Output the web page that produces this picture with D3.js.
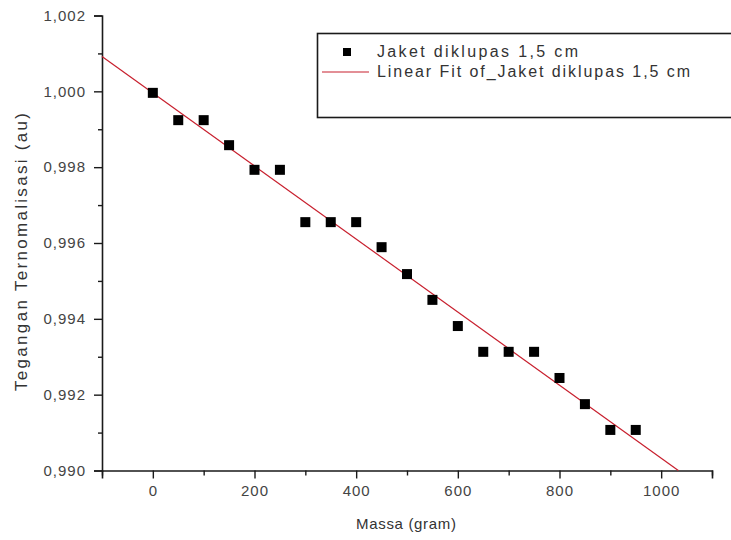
<!doctype html>
<html lang="en">

<head>
    <meta charset="utf-8">
    <title>Jaket diklupas 1,5 cm</title>
    <script src="https://cdn.jsdelivr.net/npm/d3@7"></script>
    <style>
        body { margin: 0; background: #fff; }
        svg { display: block; font-family: Arial, "Liberation Sans", sans-serif; }
    </style>
</head>

<body>
    <script>
        // data
        var massa = [0, 50, 100, 150, 200, 250, 300, 350, 400, 450,
                     500, 550, 600, 650, 700, 750, 800, 850, 900, 950];
        var tegangan = [0.99996, 0.99924, 0.99924, 0.99858, 0.99793, 0.99793, 0.99655, 0.99655, 0.99655, 0.99589,
                        0.99518, 0.99450, 0.99381, 0.99313, 0.99313, 0.99313, 0.99244, 0.99175, 0.99107, 0.99107];
        var xTicks = [0, 200, 400, 600, 800, 1000];
        var xMinor = [-100, 100, 300, 500, 700, 900, 1100];
        var yTicks = [0.990, 0.992, 0.994, 0.996, 0.998, 1.000, 1.002];
        var yMinor = [0.991, 0.993, 0.995, 0.997, 0.999, 1.001];
        var seriesName = "Jaket diklupas 1,5 cm";
        var fitName = "Linear Fit of_Jaket diklupas 1,5 cm";

        var width = 731, height = 540;
        var mLeft = 102, mRight = 712, mTop = 15.5, mBottom = 470.5;

        var svg = d3.select("body").append("svg")
            .attr("width", width)
            .attr("height", height);

        var x = d3.scaleLinear().domain([-100, 1100]).range([mLeft, mRight]);
        var y = d3.scaleLinear().domain([0.990, 1.002]).range([mBottom, mTop]);

        // comma as decimal mark
        var fmt = function(d) { return d3.format(".3f")(d).replace(".", ","); };

        // least squares fit of the points
        var mx = d3.mean(massa), my = d3.mean(tegangan);
        var sxy = d3.sum(massa, function(d, i) { return (d - mx) * (tegangan[i] - my); });
        var sxx = d3.sum(massa, function(d) { return (d - mx) * (d - mx); });
        var slope = sxy / sxx, icpt = my - slope * mx;
        var xEnd = (0.990 - icpt) / slope;

        // axes
        svg.append("g").attr("transform", "translate(0," + mBottom + ")")
            .call(d3.axisBottom(x).tickValues(xTicks).tickSize(8).tickPadding(7).tickFormat(d3.format("d")));
        svg.append("g").attr("transform", "translate(0," + mBottom + ")")
            .call(d3.axisBottom(x).tickValues(xMinor).tickSize(5).tickFormat(""))
            .select(".domain").remove();

        svg.append("g").attr("transform", "translate(" + mLeft + ",0)")
            .call(d3.axisLeft(y).tickValues(yTicks).tickSize(8).tickPadding(8).tickFormat(fmt));
        svg.append("g").attr("transform", "translate(" + mLeft + ",0)")
            .call(d3.axisLeft(y).tickValues(yMinor).tickSize(4).tickFormat(""))
            .select(".domain").remove();

        svg.selectAll(".domain").attr("stroke", "#1a1a1a").attr("stroke-width", 1.6);
        svg.selectAll(".tick line").attr("stroke", "#1a1a1a").attr("stroke-width", 1.4);
        svg.selectAll(".tick text")
            .attr("fill", "#444")
            .attr("font-size", 15)
            .attr("letter-spacing", 1)
            .attr("font-family", "Arial, 'Liberation Sans', sans-serif");

        // fit line
        svg.append("line")
            .attr("x1", x(-100)).attr("y1", y(icpt + slope * -100))
            .attr("x2", x(xEnd)).attr("y2", y(0.990))
            .attr("stroke", "#c8202e")
            .attr("stroke-width", 1.2);

        // points
        svg.selectAll("rect.pt")
            .data(massa)
            .enter()
            .append("rect")
            .attr("class", "pt")
            .attr("x", function(d) { return x(d) - 5; })
            .attr("y", function(d, i) { return y(tegangan[i]) - 5; })
            .attr("width", 10)
            .attr("height", 10)
            .attr("fill", "#000");

        // axis titles
        svg.append("text")
            .attr("transform", "translate(27,252) rotate(-90)")
            .attr("text-anchor", "middle")
            .attr("font-size", 17)
            .attr("fill", "#333")
            .attr("textLength", 278)
            .attr("lengthAdjust", "spacing")
            .text("Tegangan Ternomalisasi (au)");

        svg.append("text")
            .attr("x", 406).attr("y", 529)
            .attr("text-anchor", "middle")
            .attr("font-size", 15)
            .attr("fill", "#333")
            .attr("textLength", 100)
            .attr("lengthAdjust", "spacing")
            .text("Massa (gram)");

        // legend
        var lg = svg.append("g");
        lg.append("rect")
            .attr("x", 317.5).attr("y", 33.5)
            .attr("width", 430).attr("height", 84)
            .attr("fill", "#fff")
            .attr("stroke", "#1a1a1a")
            .attr("stroke-width", 1.6);
        lg.append("rect")
            .attr("x", 343).attr("y", 48)
            .attr("width", 8).attr("height", 8)
            .attr("fill", "#000");
        lg.append("line")
            .attr("x1", 322).attr("x2", 369)
            .attr("y1", 72).attr("y2", 72)
            .attr("stroke", "#c8202e")
            .attr("stroke-width", 1.2);
        lg.selectAll("text")
            .data([seriesName, fitName])
            .enter()
            .append("text")
            .attr("x", 377)
            .attr("y", function(d, i) { return 57 + i * 20; })
            .attr("font-size", 16)
            .attr("fill", "#333")
            .attr("textLength", function(d, i) { return i === 0 ? 201 : 313; })
            .attr("lengthAdjust", "spacing")
            .text(function(d) { return d; });
    </script>
</body>

</html>
